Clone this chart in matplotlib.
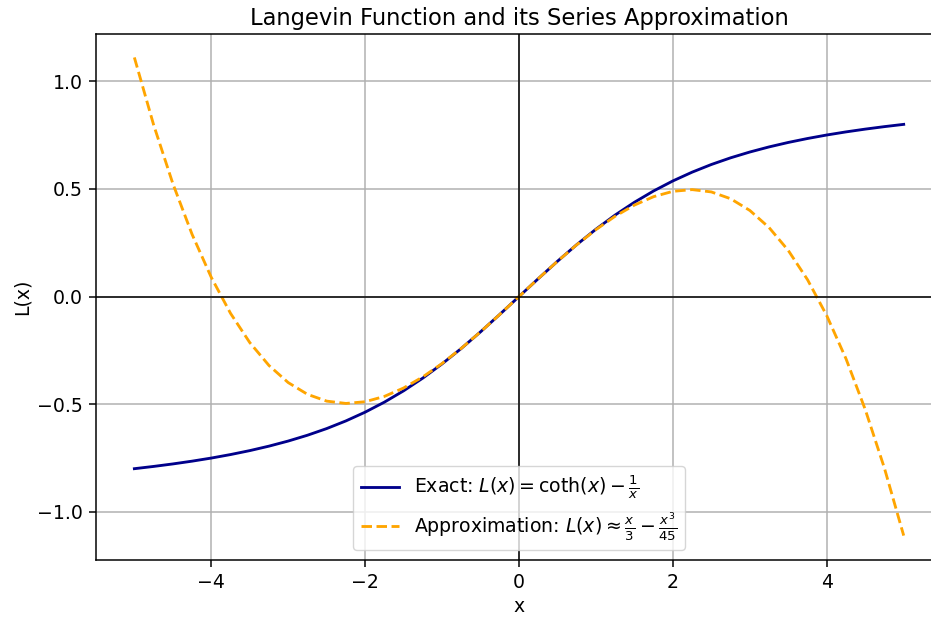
import numpy as np
from matplotlib import pyplot as plt

# sampled x values
x = [-5.0, -4.75, -4.5, -4.25, -4.0, -3.75, -3.5, -3.25, -3.0, -2.75, -2.5,
     -2.25, -2.0, -1.75, -1.5, -1.25, -1.0, -0.75, -0.5, -0.25, 0.0,
     0.25, 0.5, 0.75, 1.0, 1.25, 1.5, 1.75, 2.0, 2.25, 2.5,
     2.75, 3.0, 3.25, 3.5, 3.75, 4.0, 4.25, 4.5, 4.75, 5.0]

# exact Langevin values
exact = [-0.8001, -0.7896, -0.7780, -0.7651, -0.7507, -0.7344, -0.7161, -0.6953,
         -0.6716, -0.6446, -0.6136, -0.5780, -0.5373, -0.4908, -0.4381, -0.3789,
         -0.3130, -0.2411, -0.1640, -0.0830, 0.0,
         0.0830, 0.1640, 0.2411, 0.3130, 0.3789, 0.4381, 0.4908, 0.5373,
         0.5780, 0.6136, 0.6446, 0.6716, 0.6953, 0.7161, 0.7344, 0.7507,
         0.7651, 0.7780, 0.7896, 0.8001]

# series approximation values
approx = [1.1111, 0.7983, 0.5250, 0.2892, 0.0889, -0.0781, -0.2139, -0.3205,
          -0.4000, -0.4545, -0.4861, -0.4969, -0.4889, -0.4642, -0.4250, -0.3733,
          -0.3111, -0.2406, -0.1639, -0.0830, 0.0,
          0.0830, 0.1639, 0.2406, 0.3111, 0.3733, 0.4250, 0.4642, 0.4889,
          0.4969, 0.4861, 0.4545, 0.4000, 0.3205, 0.2139, 0.0781, -0.0889,
          -0.2892, -0.5250, -0.7983, -1.1111]

# the reference looks like a 10pt figure rendered a bit larger, so scale everything
s = 1.36
plt.rcParams['font.size'] = 10 * s
plt.rcParams['lines.linewidth'] = 1.5 * s
plt.rcParams['axes.linewidth'] = 0.8 * s
plt.rcParams['grid.linewidth'] = 0.8 * s
plt.rcParams['xtick.major.size'] = 3.5 * s
plt.rcParams['ytick.major.size'] = 3.5 * s
plt.rcParams['xtick.major.width'] = 0.8 * s
plt.rcParams['ytick.major.width'] = 0.8 * s
plt.rcParams['xtick.major.pad'] = 3.5 * s
plt.rcParams['ytick.major.pad'] = 3.5 * s

fig, ax = plt.subplots(figsize=(9.31, 6.21), dpi=100)

ax.plot(x, exact, color='darkblue',
        label=r'Exact: $L(x) = \coth(x) - \frac{1}{x}$')
ax.plot(x, approx, color='orange', linestyle='--',
        label=r'Approximation: $L(x) \approx \frac{x}{3} - \frac{x^3}{45}$')

ax.axhline(0, color='black', linewidth=0.8 * s)
ax.axvline(0, color='black', linewidth=0.8 * s)

ax.set_title('Langevin Function and its Series Approximation')
ax.set_xlabel('x')
ax.set_ylabel('L(x)')
ax.grid(True)
ax.legend(loc='lower center')

# right edge of the axes falls just outside the picture, like the reference crop
fig.subplots_adjust(left=0.103, right=1.012, top=0.946, bottom=0.099)
fig.savefig('out.png')
